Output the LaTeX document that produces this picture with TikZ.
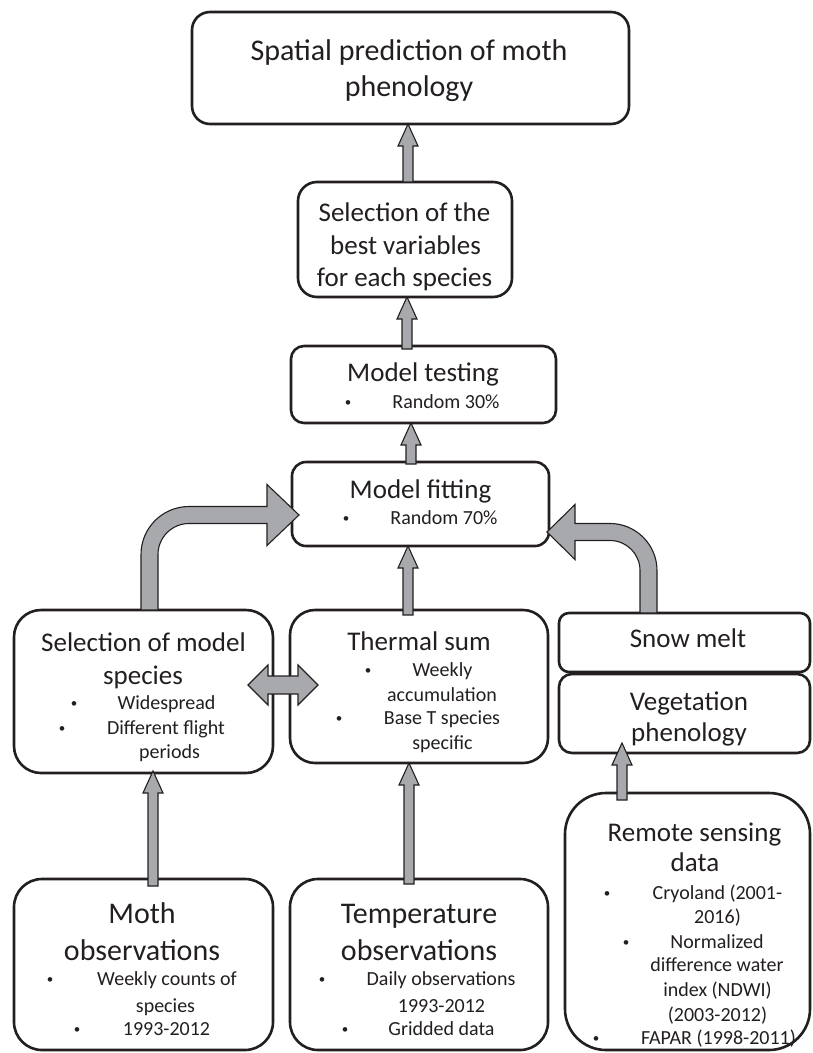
\documentclass[tikz,border=0pt]{standalone}
\usepackage{fontspec}
\setmainfont{Carlito}
\usetikzlibrary{calc}
\definecolor{ink}{RGB}{35,31,32}
\definecolor{arrowgray}{RGB}{167,169,172}
\tikzset{
  box/.style={draw=ink, line width=2.6pt, fill=white, inner sep=0pt, outer sep=0pt},
  blk/.style={draw=ink, line width=1.1pt, fill=arrowgray, line join=miter},
  big/.style={inner sep=0pt, text height=19pt, text depth=0pt, text=ink, font=\fontsize{30}{36}\selectfont},
  ttl/.style={inner sep=0pt, text height=17pt, text depth=0pt, text=ink, font=\fontsize{27}{33}\selectfont},
  itm/.style={inner sep=0pt, text height=13pt, text depth=0pt, text=ink, font=\fontsize{20}{24}\selectfont},
  bul/.style={inner sep=0pt, text height=8.6pt, text depth=0pt, text=ink, font=\fontsize{13}{16}\selectfont},
}
% straight block arrow pointing up: shaft from #1 to the tip #2
\newcommand\blockup[2]{%
  \draw[blk] let \p1=(#1), \p2=(#2) in
    (\x1-5pt,\y1) -- (\x1-5pt,\y2-22pt) -- (\x1-10pt,\y2-22pt) -- (\x1,\y2)
    -- (\x1+10pt,\y2-22pt) -- (\x1+5pt,\y2-22pt) -- (\x1+5pt,\y1) -- cycle;}
\begin{document}
\begin{tikzpicture}[x=1pt,y=-1pt]
\useasboundingbox (0,0) rectangle (813,1053);
\fill[white] (0,0) rectangle (813,1053);

% boxes
\node[box, minimum width=437pt, minimum height=112pt, rounded corners=18pt] (top) at (410.5,68) {};
\node[box, minimum width=214pt, minimum height=115pt, rounded corners=19pt] (best) at (405,239.5) {};
\node[box, minimum width=265pt, minimum height=77pt, rounded corners=13pt] (testing) at (423.5,384.5) {};
\node[box, minimum width=257pt, minimum height=84pt, rounded corners=14pt] (fitting) at (420.5,504) {};
\node[box, minimum width=259pt, minimum height=163pt, rounded corners=27pt] (species) at (143.5,691.5) {};
\node[box, minimum width=258pt, minimum height=153pt, rounded corners=25pt] (thermal) at (419,686.5) {};
\node[box, minimum width=251pt, minimum height=59pt, rounded corners=10pt] (snow) at (684.5,642.5) {};
\node[box, minimum width=251pt, minimum height=79pt, rounded corners=13pt] (veg) at (684.5,713.5) {};
\node[box, minimum width=259pt, minimum height=171pt, rounded corners=28pt] (moth) at (143.5,964.5) {};
\node[box, minimum width=258pt, minimum height=171pt, rounded corners=28pt] (temp) at (419,964.5) {};
\node[box, minimum width=245pt, minimum height=257pt, rounded corners=41pt] (remote) at (687.5,921.5) {};

% straight arrows
\coordinate (a1) at ($(best.north)+(3,0)$);
\blockup{a1}{a1 |- top.south}
\coordinate (a2) at ($(testing.north)+(-16.5,3)$);
\blockup{a2}{a2 |- best.south}
\coordinate (a3) at ($(fitting.north)+(-9.5,2)$);
\blockup{a3}{a3 |- testing.south}
\coordinate (a4) at ($(thermal.north)+(-11,5)$);
\blockup{a4}{a4 |- fitting.south}
\coordinate (a5) at ($(moth.north)+(9.5,7)$);
\blockup{a5}{$(a5 |- species.south)+(0,-2)$}
\coordinate (a6) at ($(temp.north)+(-10,5)$);
\blockup{a6}{a6 |- thermal.south}
\coordinate (a7) at ($(remote.north)+(-65.5,7)$);
\blockup{a7}{$(a7 |- veg.south)+(0,-10)$}

% double arrow between species selection and thermal sum
\coordinate (dl) at ($(species.east)+(-25,-6.5)$);
\coordinate (dr) at ($(thermal.west)+(28,-1.5)$);
\draw[blk] let \p1=(dl), \p2=(dr) in
  (\x1,\y1) -- (\x1+20pt,\y1+20pt) -- (\x1+20pt,\y1+9pt) -- (\x2-20pt,\y2+9pt)
  -- (\x2-20pt,\y2+20pt) -- (\x2,\y2) -- (\x2-20pt,\y2-20pt) -- (\x2-20pt,\y2-9pt)
  -- (\x1+20pt,\y1-9pt) -- (\x1+20pt,\y1-20pt) -- cycle;

% bent arrow from species selection into model fitting
\coordinate (sl) at ($(species.north)+(6,0)$);
\coordinate (tl) at ($(fitting.west)+(7,11)$);
\draw[blk] let \p1=(sl), \p2=(tl) in
  (\x1-8.5pt,\y1) -- (\x1-8.5pt,\y2-39.5pt)
  .. controls (\x1-8.5pt,\y2-13pt) and (\x1+13pt,\y2+8.5pt) .. (\x1+39.5pt,\y2+8.5pt)
  -- (\x2-32pt,\y2+8.5pt) -- (\x2-32pt,\y2+30.5pt) -- (\x2,\y2)
  -- (\x2-32pt,\y2-30.5pt) -- (\x2-32pt,\y2-8.5pt) -- (\x1+39.5pt,\y2-8.5pt)
  .. controls (\x1+22.4pt,\y2-8.5pt) and (\x1+8.5pt,\y2-22.4pt) .. (\x1+8.5pt,\y2-39.5pt)
  -- (\x1+8.5pt,\y1) -- cycle;

% bent arrow from snow melt into model fitting
\coordinate (sr) at ($(snow.north)+(-36,0)$);
\coordinate (tr) at ($(fitting.east)+(-2,28)$);
\draw[blk] let \p1=(sr), \p2=(tr) in
  (\x1+8.5pt,\y1) -- (\x1+8.5pt,\y2-38.5pt)
  .. controls (\x1+8.5pt,\y2-12.6pt) and (\x1-12.6pt,\y2+8.5pt) .. (\x1-38.5pt,\y2+8.5pt)
  -- (\x2+28pt,\y2+8.5pt) -- (\x2+28pt,\y2+27.5pt) -- (\x2,\y2)
  -- (\x2+28pt,\y2-27.5pt) -- (\x2+28pt,\y2-8.5pt) -- (\x1-38.5pt,\y2-8.5pt)
  .. controls (\x1-21.9pt,\y2-8.5pt) and (\x1-8.5pt,\y2-21.9pt) .. (\x1-8.5pt,\y2-38.5pt)
  -- (\x1-8.5pt,\y1) -- cycle;

% texts
\node[big] (t1) at (409,51) {Spatial prediction of moth};
\node[big] (t2) at (409,87) {phenology};

\node[ttl] (b1) at (404.5,213) {Selection of the};
\node[ttl] (b2) at (405.5,246) {best variables};
\node[ttl] (b3) at (404.5,278) {for each species};

\node[ttl] (mt1) at (423,373) {Model testing};
\node[bul] (mt2) at (348,402) {•};
\node[itm] (mt3) at (446,402) {Random 30\%};

\node[ttl] (mf1) at (420.5,490) {Model fitting};
\node[bul] (mf2) at (346,518) {•};
\node[itm] (mf3) at (444,518) {Random 70\%};

\node[ttl] (s1) at (143.5,643) {Selection of model};
\node[ttl] (s2) at (143,676) {species};
\node[bul] (s3) at (74,703) {•};
\node[itm] (s4) at (166.5,703) {Widespread};
\node[bul] (s5) at (62,728) {•};
\node[itm] (s6) at (166,728) {Different flight};
\node[itm] (s7) at (169.5,752) {periods};

\node[ttl] (h1) at (419,642) {Thermal sum};
\node[bul] (h2) at (368,670) {•};
\node[itm] (h3) at (442.5,670) {Weekly};
\node[itm] (h4) at (442,695) {accumulation};
\node[bul] (h5) at (339,718) {•};
\node[itm] (h6) at (442,718) {Base T species};
\node[itm] (h7) at (442.5,743) {specific};

\node[ttl] (n1) at (688,639) {Snow melt};
\node[ttl] (v1) at (689,702) {Vegetation};
\node[ttl] (v2) at (689,733) {phenology};

\node[big] (m1) at (142,914) {Moth};
\node[big] (m2) at (142,951) {observations};
\node[bul] (m3) at (50,979) {•};
\node[itm] (m4) at (167,979) {Weekly counts of};
\node[itm] (m5) at (165.5,1005.5) {species};
\node[bul] (m6) at (77,1029) {•};
\node[itm] (m7) at (166.5,1029) {1993-2012};

\node[big] (p1) at (419,914) {Temperature};
\node[big] (p2) at (419,951) {observations};
\node[bul] (p3) at (322,979) {•};
\node[itm] (p4) at (441,979) {Daily observations};
\node[itm] (p5) at (441.5,1005.5) {1993-2012};
\node[bul] (p6) at (345,1029) {•};
\node[itm] (p7) at (441.5,1029) {Gridded data};

\node[ttl] (r1) at (694.5,833) {Remote sensing};
\node[ttl] (r2) at (695,863) {data};
\node[bul] (r3) at (607,893) {•};
\node[itm] (r4) at (717.5,893) {Cryoland (2001-};
\node[itm] (r5) at (717.5,917) {2016)};
\node[bul] (r6) at (626,942) {•};
\node[itm] (r7) at (717,942) {Normalized};
\node[itm] (r8) at (717,965) {difference water};
\node[itm] (r9) at (717.5,990) {index (NDWI)};
\node[itm] (r10) at (717.5,1015) {(2003-2012)};
\node[bul] (r11) at (596,1038) {•};
\node[itm] (r12) at (718.5,1038) {FAPAR (1998-2011)};
\end{tikzpicture}
\end{document}
